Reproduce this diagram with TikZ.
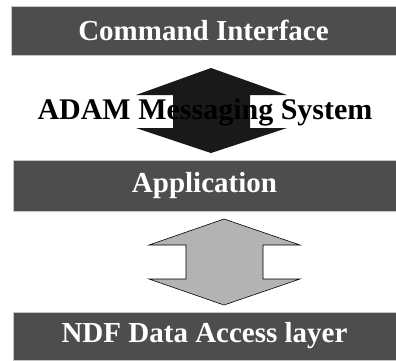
\documentclass[tikz,border=0pt]{standalone}
\usepackage{fontspec}
\setmainfont{Liberation Serif}
\usepackage{tikz}
\usepackage{xcolor}
\definecolor{bardark}{HTML}{4D4D4D}
\definecolor{arrowgray}{HTML}{B3B3B3}

\begin{document}
\begin{tikzpicture}[x=1pt,y=-1pt,line join=miter,
  layerbar/.style={fill=bardark,draw=gray!45,line width=0.8pt,inner sep=0pt,
    text=white,font=\fontsize{29}{32}\selectfont\bfseries},
  blockarrow/.style={draw=black,line width=0.6pt}]
\useasboundingbox (0,0) rectangle (396,360);
\node[layerbar,minimum width=385pt,minimum height=49pt] (cmd) at (203.5,30.5) {Command Interface};
\node[layerbar,minimum width=383pt,minimum height=51pt] (app) at (204.5,185.5) {Application};
\node[layerbar,minimum width=383pt,minimum height=48pt] (ndf) at (204.5,336) {NDF Data Access layer};
\fill[black!90] (211,68) -- (287,95) -- (250,95) -- (250,128) -- (287,128) -- (211,153)
  -- (136,128) -- (173,128) -- (173,95) -- (136,95) -- cycle;
\node[font=\fontsize{30}{33}\selectfont\bfseries,inner sep=0pt] (msg) at (205,112) {ADAM Messaging System};
\filldraw[blockarrow,fill=arrowgray] (224,219) -- (300,245) -- (263,245) -- (263,279) -- (300,279) -- (224,305)
  -- (149,279) -- (186,279) -- (186,245) -- (149,245) -- cycle;
\end{tikzpicture}
\end{document}
